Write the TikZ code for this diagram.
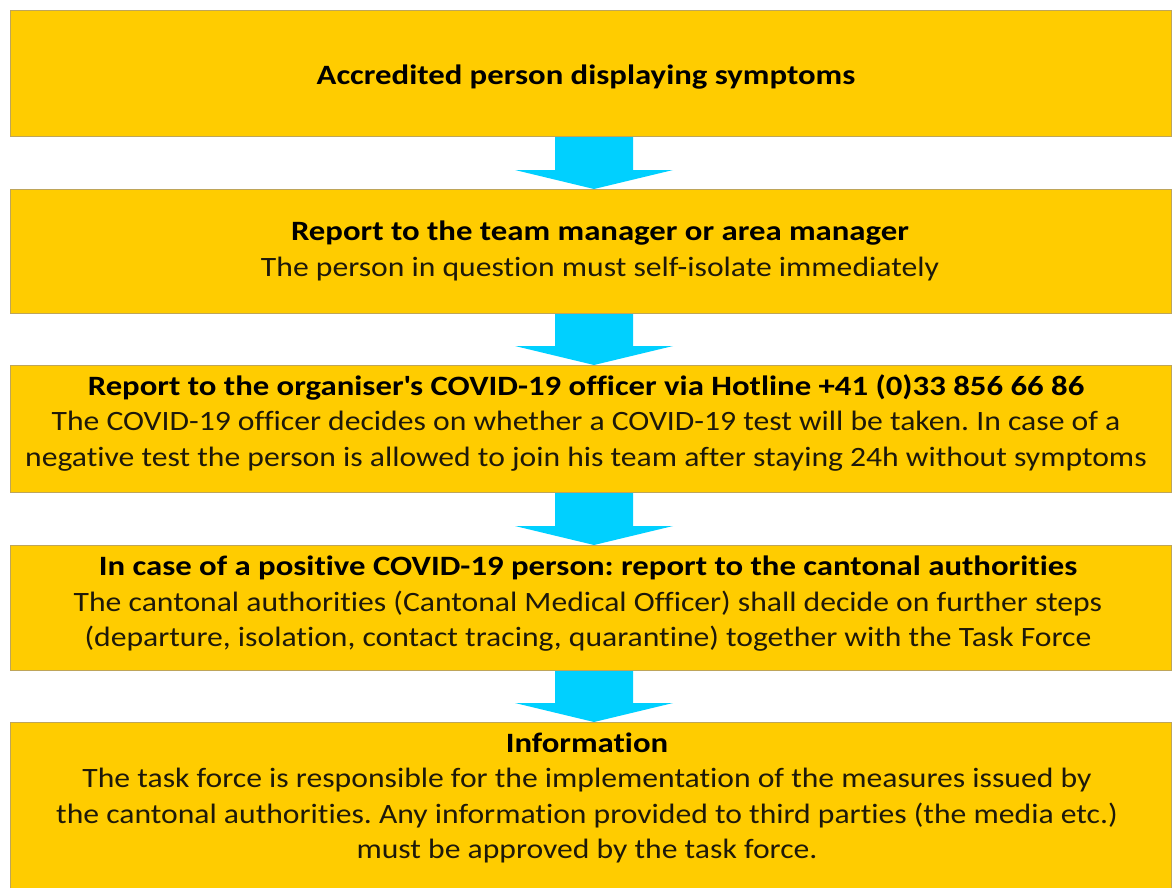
\documentclass[tikz,border=0pt]{standalone}
\usepackage{fontspec}
\setmainfont{Carlito}[FakeStretch=1.13, Ligatures={NoCommon}, BoldFeatures={FakeStretch=1.17}]
\usetikzlibrary{calc}
\definecolor{boxyellow}{RGB}{255,204,0}
\definecolor{boxedge}{RGB}{190,165,90}
\definecolor{arrowcyan}{RGB}{0,208,255}
\definecolor{bodytext}{RGB}{30,25,10}
\tikzset{
  flowbox/.style={draw=boxedge, fill=boxyellow, line width=1pt},
  boxtext/.style={align=center, text=bodytext, inner sep=0pt, font=\fontsize{28}{35.5}\selectfont},
  flowarrow/.style={fill=arrowcyan, draw=none}
}
\frenchspacing
\newcommand{\downarrowshape}[2]{%
  \fill[flowarrow] ($(#1.south)+(-36,0)$) -- ($(#1.south)+(42,0)$) -- ($(#2.north)+(42,-19)$) -- ($(#2.north)+(82,-19)$) -- ($(#2.north)+(3,0)$) -- ($(#2.north)+(-76,-19)$) -- ($(#2.north)+(-36,-19)$) -- cycle;}
\begin{document}
\begin{tikzpicture}[x=1pt,y=-1pt]
\useasboundingbox (0,0) rectangle (1172,887);
\fill[white] (0,0) rectangle (1172,887);
% boxes
\node[flowbox, anchor=north west, minimum width=1161pt, minimum height=126pt, inner sep=0pt] (box1) at (10,10) {};
\node[flowbox, anchor=north west, minimum width=1161pt, minimum height=124pt, inner sep=0pt] (box2) at (10,189) {};
\node[flowbox, anchor=north west, minimum width=1161pt, minimum height=127pt, inner sep=0pt] (box3) at (10,365) {};
\node[flowbox, anchor=north west, minimum width=1161pt, minimum height=125pt, inner sep=0pt] (box4) at (10,545) {};
\node[flowbox, anchor=north west, minimum width=1161pt, minimum height=175pt, inner sep=0pt] (box5) at (10,722) {};
% arrows
\downarrowshape{box1}{box2}
\downarrowshape{box2}{box3}
\downarrowshape{box3}{box4}
\downarrowshape{box4}{box5}
% texts
\node[boxtext] (t1) at (586,77) {\textbf{\textcolor{black}{Accredited person displaying symptoms}}};
\node[boxtext] (t2) at (600,251) {\textbf{\textcolor{black}{Report to the team manager or area manager}}\\The person in question must self-isolate immediately};
\node[boxtext] (t3) at (586,423) {\textbf{\textcolor{black}{Report to the organiser\textquotesingle s COVID-19 officer via Hotline +41 (0)33 856 66 86}}\\The COVID-19 officer decides on whether a COVID-19 test will be taken. In case of a\\negative test the person is allowed to join his team after staying 24h without symptoms};
\node[boxtext] (t4) at (588,604) {\textbf{\textcolor{black}{In case of a positive COVID-19 person: report to the cantonal authorities}}\\The cantonal authorities (Cantonal Medical Officer) shall decide on further steps\\(departure, isolation, contact tracing, quarantine) together with the Task Force};
\node[boxtext] (t5) at (587,798) {\textbf{\textcolor{black}{Information}}\\The task force is responsible for the implementation of the measures issued by\\the cantonal authorities. Any information provided to third parties (the media etc.)\\must be approved by the task force.};
\end{tikzpicture}
\end{document}
